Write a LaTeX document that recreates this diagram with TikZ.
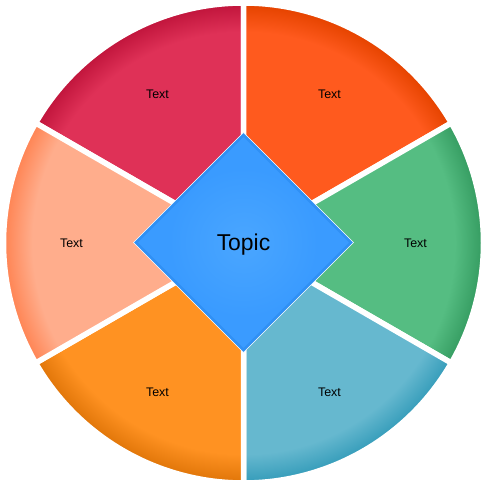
\documentclass[tikz,border=0pt]{standalone}
\usepackage{fontspec}
\setmainfont{Liberation Sans}
\usetikzlibrary{shapes.geometric}
\definecolor{crimson}{HTML}{DF3157}
\definecolor{crimsonrim}{HTML}{C2163D}
\definecolor{flame}{HTML}{FF5A1E}
\definecolor{flamerim}{HTML}{E64400}
\definecolor{jade}{HTML}{55BD82}
\definecolor{jaderim}{HTML}{379E63}
\definecolor{teal}{HTML}{66B8CF}
\definecolor{tealrim}{HTML}{389EBB}
\definecolor{amber}{HTML}{FF9222}
\definecolor{amberrim}{HTML}{E2770A}
\definecolor{salmon}{HTML}{FFAD8C}
\definecolor{salmonrim}{HTML}{FF8656}
\definecolor{topicin}{HTML}{4AA6FF}
\definecolor{topicmid}{HTML}{3A9BFF}
\definecolor{topicout}{HTML}{2A89EE}
\pgfdeclareradialshading[basecol,rimcol]{rimshade}{\pgfpoint{0bp}{0bp}}{color(0bp)=(basecol); color(22bp)=(basecol); color(24.75bp)=(rimcol); color(25bp)=(rimcol); color(50bp)=(rimcol)}
\pgfdeclareradialshading{topicshade}{\pgfpoint{0bp}{0bp}}{color(0bp)=(topicin); color(17bp)=(topicmid); color(50bp)=(topicmid)}
\tikzset{
  segment/.style={draw=white, line width=5.5bp},
  sector text/.style={font=\fontsize{12.5}{15}\selectfont},
  topic rim/.style={draw=topicout, line width=3bp, opacity=0.6, line join=miter},
}
\begin{document}
\begin{tikzpicture}[x=1bp, y=1bp]
\useasboundingbox (-243.5,-245) rectangle (243.5,243);
\foreach \a/\base/\rim/\n in {90/crimson/crimsonrim/tl, 30/flame/flamerim/tr, -30/jade/jaderim/r, -90/teal/tealrim/br, -150/amber/amberrim/bl, 150/salmon/salmonrim/l} {
  \colorlet{basecol}{\base}
  \colorlet{rimcol}{\rim}
  \begin{scope}
    \clip (0,0) -- (\a:240) arc[start angle=\a, delta angle=60, radius=240] -- cycle;
    \shade[shading=rimshade] (0,0) circle[radius=240];
  \end{scope}
  \draw[segment] (0,0) -- (\a:240) arc[start angle=\a, delta angle=60, radius=240] -- cycle;
  \node[sector text] (\n) at (\a+30:172) {Text};
}
\node[diamond, aspect=1, inner sep=0, outer sep=0, minimum size=220bp, shading=topicshade, text depth=0pt, font=\fontsize{23}{27}\selectfont] (topic) at (0,0.5) {Topic};
\draw[topic rim] ([yshift=-2.2]topic.north) -- ([xshift=-2.2]topic.east) -- ([yshift=2.2]topic.south) -- ([xshift=2.2]topic.west) -- cycle;
\draw[white, line width=0.6bp] (topic.north) -- (topic.east) -- (topic.south) -- (topic.west) -- cycle;
\end{tikzpicture}
\end{document}
